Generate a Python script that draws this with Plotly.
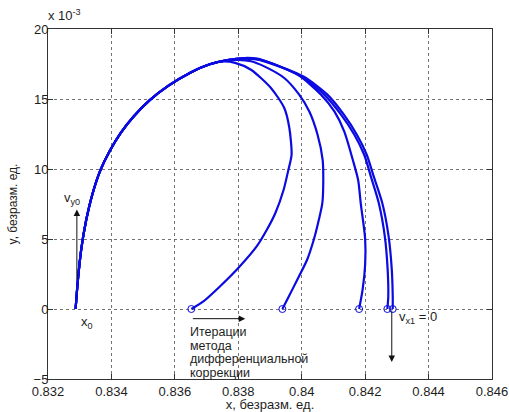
import plotly.graph_objects as go

# Common ascending arc shared by every correction iteration (y in units of 1e-3)
X_ASC = [0.83287, 0.83294, 0.83305, 0.83320, 0.83340, 0.83365, 0.83395, 0.83430,
         0.83470, 0.83520, 0.83580, 0.83650, 0.83710]
Y_ASC = [0.00, 2.00, 4.30, 6.30, 8.20, 9.90, 11.30, 12.60,
         13.75, 14.90, 15.95, 16.90, 17.48]

# Descending branches, one per iteration
X_IT1 = [0.83750, 0.83790, 0.83840, 0.83903, 0.83945, 0.83961, 0.83968, 0.83958,
         0.83943, 0.83917, 0.83890, 0.83858, 0.83800, 0.83742, 0.83690, 0.83652]
Y_IT1 = [17.68, 17.58, 17.09, 15.79, 14.36, 12.93, 11.02, 9.94,
         8.52, 6.86, 5.66, 4.47, 2.93, 1.61, 0.54, 0.00]

X_IT2 = [0.83760, 0.83800, 0.83840, 0.83882, 0.83945, 0.83992, 0.84024, 0.84050,
         0.84066, 0.84068, 0.84065, 0.84049, 0.84038, 0.84017, 0.83986, 0.83954, 0.83939]
Y_IT2 = [17.74, 17.80, 17.70, 17.33, 16.50, 15.31, 14.11, 12.45,
         10.66, 9.24, 7.57, 5.90, 4.95, 3.52, 2.09, 0.66, 0.00]

X_IT3 = [0.83765, 0.83810, 0.83850, 0.83882, 0.83987, 0.84061, 0.84103, 0.84134,
         0.84161, 0.84178, 0.84186, 0.84200, 0.84200, 0.84192, 0.84181]
Y_IT3 = [17.78, 17.88, 17.84, 17.69, 16.74, 15.31, 14.11, 12.69,
         10.66, 9.20, 7.57, 5.02, 3.16, 1.38, 0.00]

X_IT4 = [0.83770, 0.83815, 0.83855, 0.83903, 0.83998, 0.84071, 0.84124, 0.84166,
         0.84197, 0.84218, 0.84243, 0.84262, 0.84271, 0.84273, 0.84270]
Y_IT4 = [17.80, 17.91, 17.86, 17.57, 16.61, 15.31, 13.88, 12.45,
         11.02, 9.47, 7.57, 5.19, 2.81, 0.90, 0.00]

X_IT5 = [0.83770, 0.83820, 0.83860, 0.83909, 0.84007, 0.84081, 0.84133, 0.84174,
         0.84205, 0.84227, 0.84254, 0.84274, 0.84284, 0.84287, 0.84287]
Y_IT5 = [17.80, 17.93, 17.88, 17.52, 16.59, 15.31, 13.88, 12.45,
         11.02, 9.47, 7.57, 5.19, 2.81, 0.90, 0.00]

X_TICKS = [0.832, 0.834, 0.836, 0.838, 0.840, 0.842, 0.844, 0.846]
X_TICK_TEXT = ["0.832", "0.834", "0.836", "0.838", "0.84", "0.842", "0.844", "0.846"]
Y_TICKS = [-5, 0, 5, 10, 15, 20]

BLUE = "rgb(10,10,225)"
INK = "#1e1e1e"
FONT = "Liberation Sans, Arial, sans-serif"

fig = go.Figure()

branches = [(X_IT1, Y_IT1), (X_IT2, Y_IT2), (X_IT3, Y_IT3), (X_IT4, Y_IT4), (X_IT5, Y_IT5)]
for bx, by in branches:
    xs = X_ASC + bx
    ys = Y_ASC + by
    fig.add_trace(go.Scatter(
        x=xs, y=ys, mode="lines",
        line=dict(color=BLUE, width=2.2, shape="spline", smoothing=0.7),
        showlegend=False, hoverinfo="skip"))
    # open circle at the landing point of each iteration
    fig.add_trace(go.Scatter(
        x=[bx[-1]], y=[by[-1]], mode="markers",
        marker=dict(symbol="circle-open", color=BLUE, size=7, line=dict(width=1)),
        showlegend=False, hoverinfo="skip"))

grid = dict(showgrid=True, gridcolor="rgba(90,90,90,0.85)", griddash="dot", gridwidth=1,
            zeroline=False, showline=True, linecolor="#333", linewidth=1, mirror="ticks",
            ticks="inside", ticklen=5, tickcolor="#333", automargin=False,
            tickfont=dict(family=FONT, size=13, color=INK))

fig.update_xaxes(range=[0.832, 0.846], tickvals=X_TICKS, ticktext=X_TICK_TEXT,
                 ticklabelstandoff=0,
                 title=dict(text="x, безразм. ед.", font=dict(family=FONT, size=13, color=INK),
                            standoff=6),
                 **grid)
fig.update_yaxes(range=[-5, 20], tickvals=Y_TICKS, ticklabelstandoff=-4,
                 title=dict(text="y, безразм. ед.", font=dict(family=FONT, size=12, color=INK),
                            standoff=13),
                 **grid)

ann = []
txt = dict(family=FONT, size=13, color=INK)
ann.append(dict(xref="paper", yref="paper", x=-0.004, y=1.012, xanchor="left", yanchor="bottom",
                text="x 10<sup>-3</sup>", showarrow=False, font=dict(family=FONT, size=13, color=INK)))
# initial velocity arrow
ann.append(dict(x=0.83291, y=7.1, ax=0.83291, ay=2.0, xref="x", yref="y", axref="x", ayref="y",
                showarrow=True, arrowhead=2, arrowsize=1.3, arrowwidth=1, arrowcolor="#111", text=""))
ann.append(dict(x=0.83245, y=7.9, xanchor="left", yanchor="middle", text="v<sub>y0</sub>",
                showarrow=False, font=txt))
ann.append(dict(x=0.83298, y=-0.95, xanchor="left", yanchor="middle", text="x<sub>0</sub>",
                showarrow=False, font=txt))
# iteration direction arrow
ann.append(dict(x=0.83822, y=-0.69, ax=0.83652, ay=-0.69, xref="x", yref="y", axref="x", ayref="y",
                showarrow=True, arrowhead=2, arrowsize=1.3, arrowwidth=1, arrowcolor="#111", text=""))
lines = ["Итерации", "метода", "дифференциальной", "коррекции"]
for i, s in enumerate(lines):
    ann.append(dict(x=0.83640, y=-1.66 - i * 0.96, xanchor="left", yanchor="middle", text=s,
                    showarrow=False, font=dict(family=FONT, size=12.5, color=INK)))
# final velocity arrow
ann.append(dict(x=0.84284, y=-3.78, ax=0.84284, ay=0.0, xref="x", yref="y", axref="x", ayref="y",
                showarrow=True, arrowhead=2, arrowsize=1.3, arrowwidth=1, arrowcolor="#111", text=""))
ann.append(dict(x=0.84302, y=-0.62, xanchor="left", yanchor="middle", text="v<sub>x1</sub> = 0",
                showarrow=False, font=txt))

fig.update_layout(width=509, height=412, margin=dict(l=48, r=17, t=29, b=33),
                  paper_bgcolor="white", plot_bgcolor="white", annotations=ann,
                  font=dict(family=FONT, color=INK))

fig.write_html("out.html")
